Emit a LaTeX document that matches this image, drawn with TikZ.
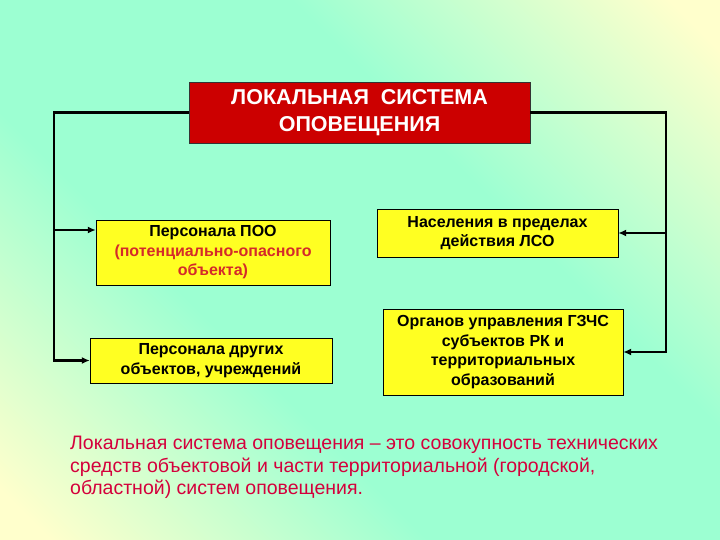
\documentclass[tikz,border=0pt]{standalone}
\usepackage{fontspec}
\setmainfont{Liberation Sans}
\usetikzlibrary{positioning,arrows.meta}
\definecolor{bgaqua}{HTML}{9CFFD2}
\definecolor{bgyel}{HTML}{FFFFCC}
\definecolor{titlered}{HTML}{CC0000}
\definecolor{boxyel}{HTML}{FFFF22}
\definecolor{notered}{HTML}{D4003C}
\definecolor{poored}{HTML}{D42A2A}
\pgfdeclarehorizontalshading{bgband}{100bp}{color(0bp)=(bgyel); color(27bp)=(bgyel); color(42bp)=(bgaqua); color(58bp)=(bgaqua); color(73bp)=(bgyel); color(100bp)=(bgyel)}
\tikzset{
titlebox/.style={
draw=black!80,
fill=titlered,
text=white,
font=\bfseries\fontsize{21.5bp}{27bp}\selectfont,
align=center,
minimum width=341bp,
minimum height=61bp,
inner sep=0pt
},
box/.style={
draw=black,
fill=boxyel,
font=\bfseries\fontsize{16bp}{19.5bp}\selectfont,
align=center,
inner sep=0pt
},
arrow/.style={
-{Latex[length=8bp,width=7bp]},
line width=2.5bp
}
}
\begin{document}
\begin{tikzpicture}[x=1bp,y=1bp]
\useasboundingbox (0,0) rectangle (720,-540);
\begin{scope}
\clip (0,0) rectangle (720,-540);
\shade[transform canvas={rotate around={45:(360,-270)}}, shading=bgband] (-85.5,-715.5) rectangle (805.5,175.5);
\end{scope}

\node[titlebox] (title) at (359.5,-112.5) {ЛОКАЛЬНАЯ\ \ СИСТЕМА\\ОПОВЕЩЕНИЯ};
\node[box, minimum width=234bp, minimum height=65bp] (poo) at (213,-252.5) {Персонала ПОО\\\textcolor{poored}{(потенциально-опасного}\\\textcolor{poored}{объекта)}};
\node[box, minimum width=242bp, minimum height=45bp] (other) at (211,-360.5) {Персонала других\\объектов, учреждений};
\node[box, minimum width=241bp, minimum height=48bp] (people) at (497.5,-233) {Населения в пределах\\действия ЛСО};
\node[box, minimum width=240bp, minimum height=86bp] (gzchs) at (503,-352) {Органов управления ГЗЧС\\субъектов РК и\\территориальных\\образований};

\node[anchor=north west, inner sep=0pt, align=left, text=notered, font=\fontsize{19.5bp}{22.5bp}\selectfont] (note) at (70,-436) {Локальная система оповещения – это совокупность технических\\средств объектовой и части территориальной (городской,\\областной) систем оповещения.};

\coordinate (ltrunk) at (54,-112.5);
\coordinate (rtrunk) at (666,-112.5);
\draw[arrow] (title.west) -- (ltrunk) |- (other.west);
\draw[arrow] (ltrunk |- 0,-230) -- (poo.west |- 0,-230);
\draw[arrow] (title.east) -- (rtrunk) |- (gzchs.east);
\draw[arrow] (rtrunk |- people.east) -- (people.east);
\end{tikzpicture}
\end{document}
